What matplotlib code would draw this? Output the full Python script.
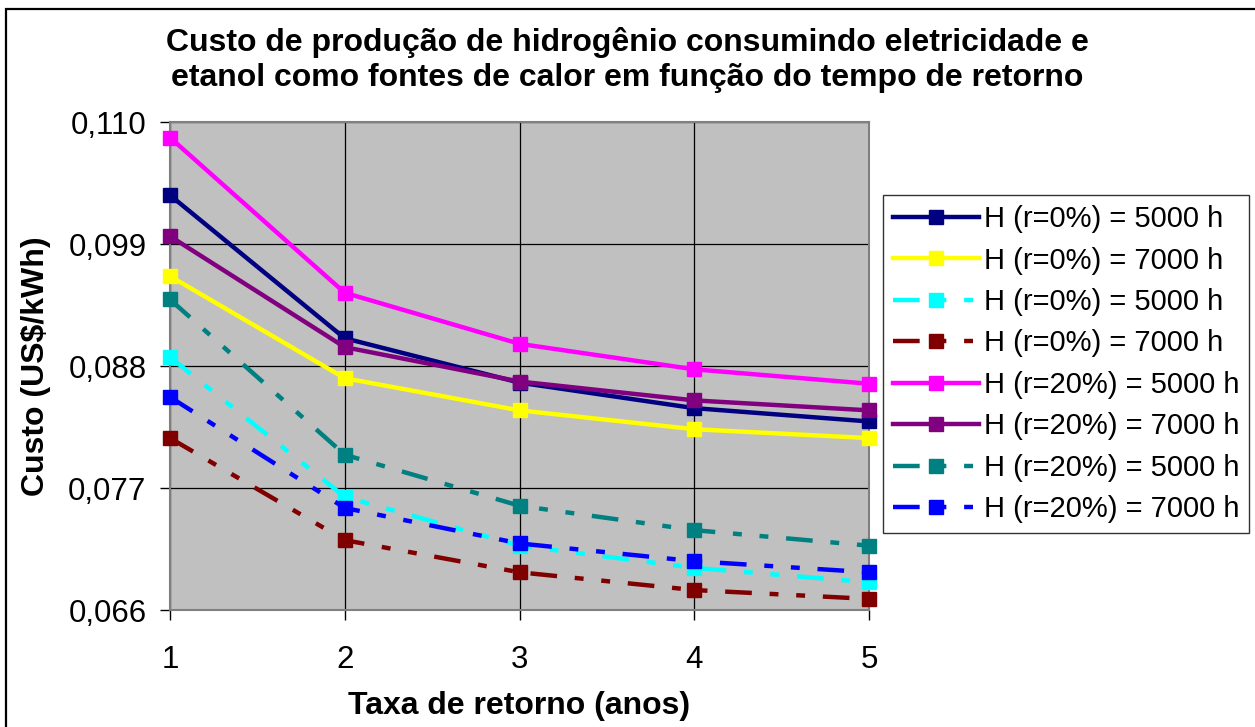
import matplotlib

matplotlib.use("Agg")

import matplotlib.pyplot as plt
from matplotlib.patches import Rectangle

plt.rcParams["font.family"] = ["Liberation Sans", "DejaVu Sans"]

# Payback time (years)
anos = [1, 2, 3, 4, 5]

# Hydrogen production cost (US$/kWh)
r0_5000_eletr = [0.1034, 0.0905, 0.0865, 0.0842, 0.0830]
r0_7000_eletr = [0.0961, 0.0869, 0.0840, 0.0823, 0.0815]
r0_5000_etanol = [0.0888, 0.0762, 0.0718, 0.0698, 0.0685]
r0_7000_etanol = [0.0815, 0.0723, 0.0694, 0.0678, 0.0670]
r20_5000_eletr = [0.1086, 0.0946, 0.0900, 0.0877, 0.0864]
r20_7000_eletr = [0.0997, 0.0897, 0.0866, 0.0849, 0.0840]
r20_5000_etanol = [0.0940, 0.0800, 0.0754, 0.0732, 0.0718]
r20_7000_etanol = [0.0852, 0.0752, 0.0720, 0.0704, 0.0694]

series_labels = [
    "H (r=0%) = 5000 h",
    "H (r=0%) = 7000 h",
    "H (r=0%) = 5000 h",
    "H (r=0%) = 7000 h",
    "H (r=20%) = 5000 h",
    "H (r=20%) = 7000 h",
    "H (r=20%) = 5000 h",
    "H (r=20%) = 7000 h",
]
y_ticks = [0.066, 0.077, 0.088, 0.099, 0.110]

SOLID = "-"
DASH_DOT_DOT = (0, (6, 4, 2, 4, 2, 4))

series = [
    (r0_5000_eletr, "#000080", SOLID),
    (r0_7000_eletr, "#FFFF00", SOLID),
    (r0_5000_etanol, "#00FFFF", DASH_DOT_DOT),
    (r0_7000_etanol, "#800000", DASH_DOT_DOT),
    (r20_5000_eletr, "#FF00FF", SOLID),
    (r20_7000_eletr, "#800080", SOLID),
    (r20_5000_etanol, "#008080", DASH_DOT_DOT),
    (r20_7000_etanol, "#0000FF", DASH_DOT_DOT),
]

W, H = 1255, 727
fig = plt.figure(figsize=(W / 100, H / 100), dpi=100, facecolor="white")
ax = fig.add_axes([170 / W, 1 - 610 / H, 699 / W, 488 / H])
ax.set_facecolor("#C0C0C0")

for (values, color, style), label in zip(series, series_labels):
    ax.plot(anos, values, color=color, linestyle=style, linewidth=3.2,
            marker="s", markersize=10, markerfacecolor=color, markeredgecolor=color,
            label=label, clip_on=False, zorder=3)

ax.set_xlim(1, 5)
ax.set_ylim(0.066, 0.110)
ax.set_xticks(anos)
ax.set_yticks(y_ticks)
ax.set_yticklabels([f"{v:.3f}".replace(".", ",") for v in y_ticks])
ax.tick_params(axis="both", labelsize=22.5, length=7, width=1, direction="out")
ax.tick_params(axis="x", pad=18)
ax.tick_params(axis="y", pad=10)
ax.grid(True, color="black", linewidth=0.9)
ax.set_axisbelow(True)
for spine in ax.spines.values():
    spine.set_color("#808080")
    spine.set_linewidth(1.5)

ax.set_xlabel("Taxa de retorno (anos)", fontsize=23, fontweight="bold", labelpad=12)
ax.set_ylabel("Custo (US$/kWh)", fontsize=23, fontweight="bold", labelpad=12)

fig.text(0.5, 1 - 60 / H,
         "Custo de produção de hidrogênio consumindo eletricidade e\n"
         "etanol como fontes de calor em função do tempo de retorno",
         ha="center", va="center", fontsize=23, fontweight="bold", linespacing=1.2)

leg = fig.legend(loc="upper left", bbox_to_anchor=(883 / W, 1 - 195 / H), fontsize=21,
                 frameon=True, fancybox=False, edgecolor="black", handlelength=2.95,
                 handletextpad=0.15, labelspacing=0.46, borderpad=0.35,
                 borderaxespad=0)
leg.get_frame().set_linewidth(1.0)

# frame around the whole chart area (its right and bottom sides fall off the canvas)
fig.patches.append(Rectangle((6 / W, -0.05), 1.2, 1 - 9 / H + 0.05, transform=fig.transFigure,
                             fill=False, edgecolor="black", linewidth=1.6))

fig.savefig("out.png", dpi=100, facecolor="white")
